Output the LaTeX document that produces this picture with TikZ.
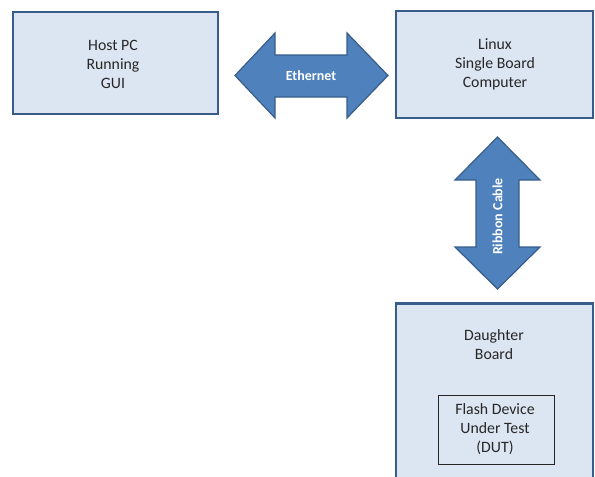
\documentclass[tikz,border=0pt]{standalone}
\usepackage{fontspec}
\setmainfont{Carlito}
\definecolor{boxfill}{HTML}{DCE6F2}
\definecolor{boxline}{HTML}{385D8A}
\definecolor{arrowfill}{HTML}{4F81BD}
\definecolor{txt}{HTML}{262626}
\begin{document}
\begin{tikzpicture}[x=1pt,y=-1pt,
  bigbox/.style={draw=boxline, fill=boxfill, line width=2.8pt, rectangle, inner sep=0pt},
  smallbox/.style={draw=txt, line width=0.9pt, rectangle, inner sep=0pt},
  boxtext/.style={align=center, text=txt, font=\fontsize{15.8}{19}\selectfont},
  blockarrow/.style={fill=arrowfill, draw=boxline, line width=1.2pt, line join=miter},
  arrowtext/.style={text=white, font=\fontsize{14}{17}\selectfont\bfseries}]
\useasboundingbox (0,0) rectangle (595,477);
\clip (0,0) rectangle (595,477);
% boxes
\node[bigbox, minimum width=205pt, minimum height=102pt] (host) at (115.5,63) {};
\node[boxtext] (hosttext) at (113,64) {Host PC\\Running\\GUI};
\node[bigbox, minimum width=197pt, minimum height=107pt] (linux) at (494.5,64.5) {};
\node[boxtext] (linuxtext) at (495,64) {Linux\\Single Board\\Computer};
\node[bigbox, minimum width=197pt, minimum height=200pt] (daughter) at (494.5,403.5) {};
\node[boxtext] (daughtertext) at (494,345) {Daughter\\Board};
\node[smallbox, minimum width=116pt, minimum height=69pt] (dut) at (496,429.5) {};
\node[boxtext] (duttext) at (495,429.5) {Flash Device\\Under Test\\(DUT)};
% Ethernet block arrow
\draw[blockarrow] (235,75.5) -- (275,33) -- (275,55) -- (347,55) -- (347,33) -- (388,75.5)
  -- (347,118) -- (347,97) -- (275,97) -- (275,118) -- cycle;
\node[arrowtext] (eth) at (311,76) {Ethernet};
% Ribbon cable block arrow
\draw[blockarrow] (497.5,137) -- (540,180) -- (519,180) -- (519,247) -- (540,247) -- (497.5,289)
  -- (455,247) -- (476,247) -- (476,180) -- (455,180) -- cycle;
\node[arrowtext, rotate=90] (ribbon) at (497.5,216.5) {Ribbon Cable};
\end{tikzpicture}
\end{document}
